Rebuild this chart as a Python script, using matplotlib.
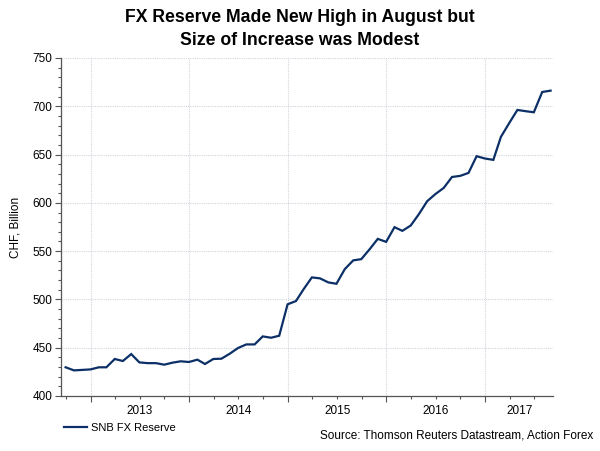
import matplotlib
matplotlib.use("Agg")
import matplotlib.pyplot as plt
import matplotlib.dates as mdates
import matplotlib.transforms as mtransforms
import pandas as pd

plt.rcParams['font.family'] = ['Liberation Sans', 'DejaVu Sans']

# SNB FX reserve, CHF billion, month-end Sep 2012 .. Aug 2017
months = pd.date_range('2012-09-30', periods=60, freq='ME')
reserve = [429.7, 426.5, 427.0, 427.5, 429.7, 429.7, 438.3, 436.2, 443.4, 434.8,
           434.0, 434.0, 432.4, 434.5, 435.9, 435.2, 437.6, 433.1, 438.3, 438.6,
           443.8, 449.6, 453.4, 453.4, 461.7, 460.3, 462.4, 494.9, 498.3, 510.4,
           522.8, 521.8, 517.6, 516.2, 531.4, 540.4, 541.7, 552.0, 562.7, 559.6,
           574.8, 571.0, 576.5, 588.2, 601.7, 609.0, 615.4, 626.8, 627.9, 631.0,
           648.3, 645.9, 644.5, 668.3, 682.7, 696.2, 694.9, 693.8, 714.8, 716.2]
years = [2013, 2014, 2015, 2016, 2017]

line_color = '#0b2f66'
axis_color = '#555555'

fig = plt.figure(figsize=(6.0, 4.51), dpi=100)
ax = fig.add_axes([0.1017, 0.122, 0.82, 0.7494])

ax.plot(months, reserve, color=line_color, lw=1.6, label='SNB FX Reserve',
        solid_joinstyle='miter')

x0, x1 = pd.Timestamp('2012-09-13'), pd.Timestamp('2017-09-09')
ax.set_xlim(x0, x1)
ax.set_ylim(400, 750)

# axes styling
for s in ['top', 'right']:
    ax.spines[s].set_visible(False)
for s in ['left', 'bottom']:
    ax.spines[s].set_color(axis_color)
    ax.spines[s].set_linewidth(0.9)

ax.set_yticks(range(400, 751, 50))
ax.set_yticks(range(400, 751, 10), minor=True)
ax.tick_params(axis='y', which='major', length=4, width=0.8, color=axis_color,
               labelsize=8.5, pad=2)
ax.tick_params(axis='y', which='minor', length=2, width=0.8, color=axis_color)

ax.xaxis.set_major_locator(mdates.YearLocator())
ax.xaxis.set_minor_locator(mdates.MonthLocator(bymonth=(4, 7, 10)))
ax.xaxis.set_major_formatter(plt.NullFormatter())
ax.tick_params(axis='x', which='major', length=4, width=0.8, color=axis_color)
ax.tick_params(axis='x', which='minor', length=2.5, width=0.8, color=axis_color)

ax.grid(True, which='major', color='#d2d5dc', linestyle=(0, (1, 1)), lw=0.8)

# year labels centred on the visible part of each year
trans = mtransforms.blended_transform_factory(ax.transData, ax.transAxes)
for yr in years:
    a = max(pd.Timestamp(f'{yr}-01-01'), x0)
    b = min(pd.Timestamp(f'{yr + 1}-01-01'), x1)
    mid = a + (b - a) / 2
    ax.text(mdates.date2num(mid), -0.027, str(yr), transform=trans,
            ha='center', va='top', fontsize=8.5)

ax.set_ylabel('CHF, Billion', fontsize=8.5, labelpad=8)

fig.suptitle('FX Reserve Made New High in August but\nSize of Increase was Modest',
             x=0.5, y=0.98, fontsize=12.7, fontweight='bold', linespacing=1.45)

ax.legend(loc='center left', bbox_to_anchor=(0.1, 0.052),
          bbox_transform=fig.transFigure, frameon=False, fontsize=8,
          handlelength=2.0, handletextpad=0.4, borderaxespad=0)

fig.text(0.988, 0.028, 'Source: Thomson Reuters Datastream, Action Forex',
         ha='right', va='baseline', fontsize=8.5)

fig.savefig('out.png', dpi=100)
